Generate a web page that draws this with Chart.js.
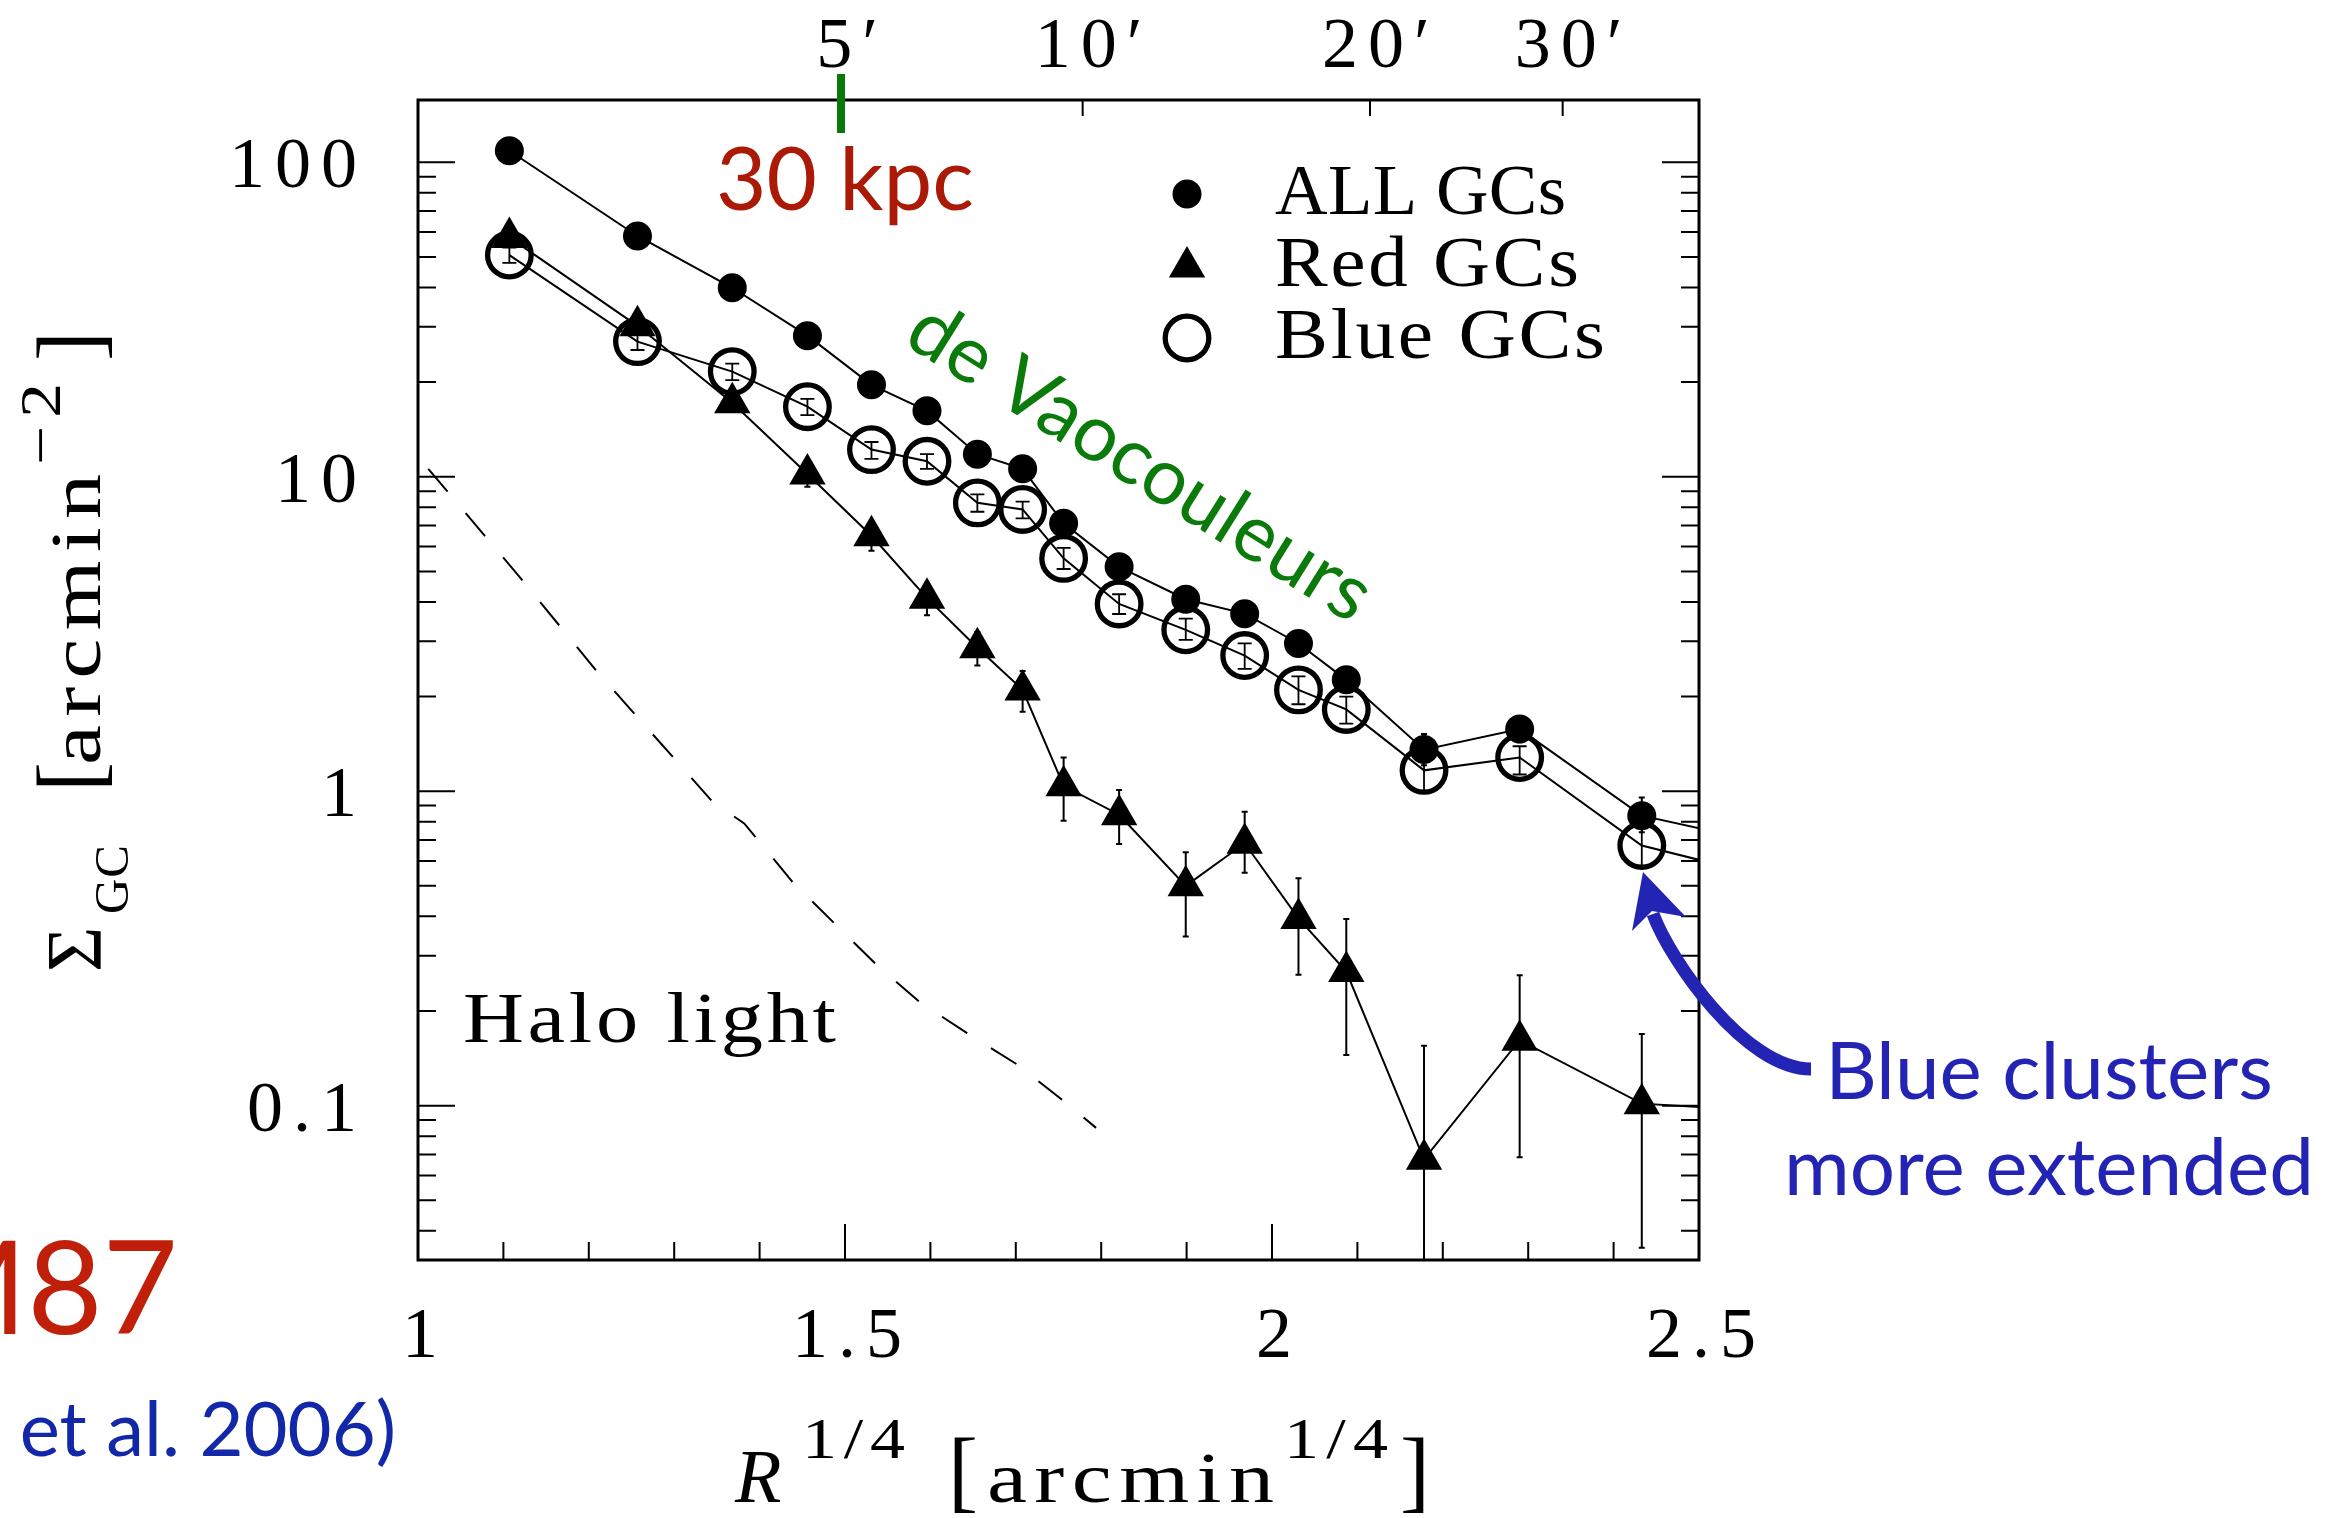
<!DOCTYPE html>
<html>
<head>
<meta charset="UTF-8">
<title>GC surface density profile</title>
<script src="https://cdn.jsdelivr.net/npm/chart.js"></script>
<style>
  body { margin: 0; background: #fff; }
  canvas { display: block; }
</style>
</head>
<body>
<canvas id="grafica" width="2342" height="1518"></canvas>
<script>
// radial bins, in R^(1/4) [arcmin^(1/4)] (last bin lies past the right edge)
const rQuarter = [1.107, 1.257, 1.368, 1.456, 1.531, 1.596, 1.655, 1.708, 1.756, 1.821, 1.899, 1.968, 2.031, 2.087, 2.178, 2.290, 2.433, 2.590];

// surface density of GCs [arcmin^-2]
const allGC  = [108.8, 58.3, 39.9, 28.1, 19.6, 16.2, 11.8, 10.6, 7.11, 5.17, 4.08, 3.67, 2.95, 2.26, 1.356, 1.576, 0.836, 0.674];
const allLo  = [104.5, 56.0, 38.3, 26.9, 18.7, 15.4, 11.2, 10.0, 6.70, 4.85, 3.80, 3.40, 2.72, 2.06, 1.21, 1.43, 0.74];
const allHi  = [113.0, 60.6, 41.5, 29.3, 20.5, 17.0, 12.4, 11.2, 7.50, 5.50, 4.35, 3.95, 3.18, 2.46, 1.52, 1.72, 0.955];

const redGC  = [57.7, 30.2, 17.2, 10.2, 6.49, 4.11, 2.86, 2.10, 1.04, 0.842, 0.50, 0.683, 0.394, 0.267, 0.0675, 0.1615, 0.1015, 0.0958];
const redLo  = [55.5, 28.6, 16.2, 9.3, 5.82, 3.63, 2.51, 1.79, 0.805, 0.679, 0.345, 0.55, 0.261, 0.145, 0.01, 0.0686, 0.0353];
const redHi  = [60.0, 31.8, 18.2, 11.1, 7.16, 4.59, 3.21, 2.41, 1.28, 1.008, 0.639, 0.86, 0.529, 0.392, 0.155, 0.26, 0.169];

const blueGC = [50.7, 26.9, 21.6, 16.7, 12.2, 11.2, 8.26, 7.87, 5.5, 3.94, 3.26, 2.70, 2.10, 1.82, 1.165, 1.28, 0.672, 0.525];
const blueLo = [47.9, 25.3, 20.3, 15.7, 11.4, 10.6, 7.74, 7.37, 5.09, 3.66, 3.03, 2.45, 1.89, 1.64, 1.00, 1.13, 0.58];
const blueHi = [53.5, 28.6, 22.9, 17.7, 12.9, 11.8, 8.79, 8.34, 5.94, 4.23, 3.54, 2.95, 2.32, 2.00, 1.35, 1.39, 0.78];

// halo light profile (dashed)
const haloR     = [1.012, 1.123, 1.208, 1.345, 1.382, 1.439, 1.536, 1.587, 1.643, 1.702, 1.755, 1.794];
const haloSigma = [10.6, 4.66, 2.43, 0.925, 0.790, 0.513, 0.282, 0.214, 0.170, 0.135, 0.104, 0.085];

// axis ticks
const xTickValues = [1, 1.5, 2, 2.5];
const xTickLabels = ['1', '1.5', '2', '2.5'];
const yTickValues = [0.1, 1, 10, 100];
const yTickLabels = ['0.1', '1', '10', '100'];
const topArcmin = [5, 10, 20, 30];
const topLabels = ['5′', '10′', '20′', '30′'];

const serif = '"Liberation Serif", "Times New Roman", serif';
const sans = 'Lato, "Open Sans", sans-serif';

function pares(xs, ys) {
  return ys.map((v, i) => ({ x: xs[i], y: v }));
}

// draws text at a given width: glyphs a bit wider, the rest as letter spacing
function spacedText(ctx, text, x, y, width, align, stretch) {
  ctx.letterSpacing = '0px';
  const natural = ctx.measureText(text).width;
  const n = Array.from(text).length;
  const ratio = width / natural;
  let sx = stretch === false ? 1 : Math.min(1.25, Math.max(1, 1 + (ratio - 1) * 0.6));
  if (n === 1) sx = 1;
  const gap = n > 1 ? (width - natural * sx) / (n - 1) : 0;
  let left = x;
  if (align === 'center') left = x - width / 2;
  if (align === 'right') left = x - width;
  ctx.save();
  ctx.translate(left, y);
  ctx.scale(sx, 1);
  ctx.textAlign = 'left';
  ctx.letterSpacing = (gap / sx) + 'px';
  ctx.fillText(text, 0, 0);
  ctx.restore();
}

function digitText(ctx, text, x, y, align) {
  ctx.letterSpacing = '0px';
  const n = Array.from(text).length;
  const w = ctx.measureText(text).width + 10 * (n - 1);
  spacedText(ctx, text, x, y, w, align, false);
}

const ejes = {
  id: 'ejes',
  beforeDatasetsDraw(chart) {
    const ctx = chart.ctx, a = chart.chartArea;
    const xs = chart.scales.x, ys = chart.scales.y;
    ctx.save();
    ctx.strokeStyle = '#000';
    ctx.lineWidth = 2;
    ctx.beginPath();
    for (let k = 10; k <= 25; k++) {
      const px = xs.getPixelForValue(k / 10);
      const len = k % 5 === 0 ? 36 : 18;
      ctx.moveTo(px, a.bottom);
      ctx.lineTo(px, a.bottom - len);
    }
    [0.01, 0.1, 1, 10, 100].forEach(d => {
      for (let k = 1; k <= 9; k++) {
        const v = d * k;
        if (v < ys.min || v > ys.max) continue;
        const py = ys.getPixelForValue(v);
        const len = k === 1 ? 37 : 18;
        ctx.moveTo(a.left, py); ctx.lineTo(a.left + len, py);
        ctx.moveTo(a.right, py); ctx.lineTo(a.right - len, py);
      }
    });
    topArcmin.forEach(m => {
      const px = xs.getPixelForValue(Math.pow(m, 0.25));
      ctx.moveTo(px, a.top); ctx.lineTo(px, a.top + 16);
    });
    ctx.stroke();
    ctx.lineWidth = 3;
    ctx.strokeRect(a.left, a.top, a.right - a.left, a.bottom - a.top);

    // tick labels
    ctx.fillStyle = '#000';
    ctx.font = '72px ' + serif;
    ctx.textBaseline = 'alphabetic';
    yTickValues.forEach((v, i) => {
      digitText(ctx, yTickLabels[i], 357, ys.getPixelForValue(v) + 25, 'right');
    });
    xTickValues.forEach((v, i) => {
      digitText(ctx, xTickLabels[i], xs.getPixelForValue(v) + 2, 1357, 'center');
    });
    topArcmin.forEach((m, i) => {
      digitText(ctx, topLabels[i], xs.getPixelForValue(Math.pow(m, 0.25)) + 6, 67, 'center');
    });
    ctx.restore();
  }
};

const barras = {
  id: 'barras',
  afterDatasetsDraw(chart) {
    const ctx = chart.ctx, a = chart.chartArea;
    const xs = chart.scales.x, ys = chart.scales.y;
    ctx.save();
    ctx.beginPath();
    ctx.rect(a.left, a.top, a.right - a.left, a.bottom - a.top);
    ctx.clip();
    ctx.strokeStyle = '#000';
    const sets = [[allLo, allHi, 3, 2], [redLo, redHi, 3, 2], [blueLo, blueHi, 7, 1.8]];
    sets.forEach(([lo, hi, cap, lw]) => {
      ctx.lineWidth = lw;
      ctx.beginPath();
      lo.forEach((l, i) => {
        const px = xs.getPixelForValue(rQuarter[i]);
        const y1 = ys.getPixelForValue(l), y2 = ys.getPixelForValue(hi[i]);
        ctx.moveTo(px, y1); ctx.lineTo(px, y2);
        ctx.moveTo(px - cap, y1); ctx.lineTo(px + cap, y1);
        ctx.moveTo(px - cap, y2); ctx.lineTo(px + cap, y2);
      });
      ctx.stroke();
    });
    ctx.restore();
  }
};

const notas = {
  id: 'notas',
  afterDraw(chart) {
    const ctx = chart.ctx;
    const xs = chart.scales.x;
    ctx.save();
    ctx.textBaseline = 'alphabetic';

    // 5 arcmin marker and 30 kpc
    const p5 = xs.getPixelForValue(Math.pow(5, 0.25));
    ctx.strokeStyle = '#087808';
    ctx.lineWidth = 8;
    ctx.beginPath(); ctx.moveTo(p5, 74); ctx.lineTo(p5, 133); ctx.stroke();
    ctx.fillStyle = '#aa1a06';
    ctx.font = '87px ' + sans;
    ctx.textAlign = 'left';
    ctx.fillText('30 kpc', 716, 210);

    // de Vaucouleurs label
    ctx.save();
    ctx.translate(1140, 462);
    ctx.rotate(32 * Math.PI / 180);
    ctx.fillStyle = '#0a7a0a';
    ctx.font = '79px ' + sans;
    ctx.textAlign = 'center';
    ctx.textBaseline = 'middle';
    ctx.fillText('de Vaocouleurs', 0, 0);
    ctx.restore();

    // legend
    ctx.fillStyle = '#000';
    ctx.strokeStyle = '#000';
    ctx.beginPath(); ctx.arc(1187, 194, 14.5, 0, 2 * Math.PI); ctx.fill();
    const r = 21, ty = 267;
    ctx.beginPath();
    ctx.moveTo(1187, ty - r);
    ctx.lineTo(1187 + r * Math.sin(2 * Math.PI / 3), ty + r / 2);
    ctx.lineTo(1187 - r * Math.sin(2 * Math.PI / 3), ty + r / 2);
    ctx.closePath(); ctx.fill();
    ctx.lineWidth = 5.3;
    ctx.beginPath(); ctx.arc(1187, 338, 21.8, 0, 2 * Math.PI); ctx.stroke();
    ctx.font = '72px ' + serif;
    spacedText(ctx, 'ALL GCs', 1275, 214, 291, 'left');
    spacedText(ctx, 'Red GCs', 1275, 286, 304, 'left');
    spacedText(ctx, 'Blue GCs', 1275, 358, 330, 'left');
    spacedText(ctx, 'Halo light', 463, 1042, 373, 'left');

    // x axis title
    ctx.font = 'italic 76px ' + serif;
    ctx.fillText('R', 735, 1502);
    ctx.font = '56px ' + serif;
    spacedText(ctx, '1/4', 802, 1458, 103, 'left');
    spacedText(ctx, '1/4', 1284, 1458, 104, 'left');
    ctx.font = '90px ' + serif;
    ctx.fillText('[', 948, 1501);
    ctx.fillText(']', 1400, 1501);
    ctx.font = '72px ' + serif;
    spacedText(ctx, 'arcmin', 987, 1502, 287, 'left');

    // y axis title
    ctx.save();
    ctx.translate(100, 972);
    ctx.rotate(-Math.PI / 2);
    ctx.font = '78px ' + serif;
    ctx.fillText('Σ', 0, 0);
    ctx.font = '48px ' + serif;
    spacedText(ctx, 'GC', 58, 28, 69, 'left');
    ctx.font = '90px ' + serif;
    ctx.fillText('[', 180, 0);
    ctx.fillText(']', 611, 0);
    ctx.font = '72px ' + serif;
    spacedText(ctx, 'arcmin', 207, 0, 291, 'left');
    ctx.font = '58px ' + serif;
    spacedText(ctx, '−2', 507, -40, 82, 'left');
    ctx.restore();

    // arrow to the outermost blue point
    ctx.strokeStyle = '#2424b4';
    ctx.fillStyle = '#2424b4';
    ctx.lineWidth = 13;
    ctx.beginPath();
    ctx.moveTo(1811, 1069);
    ctx.bezierCurveTo(1745, 1069, 1670, 960, 1653, 914);
    ctx.stroke();
    ctx.beginPath();
    ctx.moveTo(1643, 872);
    ctx.lineTo(1686, 917);
    ctx.lineTo(1652, 911);
    ctx.lineTo(1632, 931);
    ctx.closePath();
    ctx.fill();
    ctx.font = '80px ' + sans;
    ctx.textAlign = 'center';
    ctx.fillText('Blue clusters', 2049, 1099);
    ctx.fillText('more extended', 2049, 1195);

    // title fragments cut by the left edge
    ctx.textAlign = 'right';
    ctx.fillStyle = '#c0200a';
    ctx.font = '130px ' + sans;
    ctx.fillText('M87', 178, 1334);
    ctx.fillStyle = '#1228a8';
    ctx.font = '76px ' + sans;
    ctx.fillText('(Tamura et al. 2006)', 396, 1456);
    ctx.restore();
  }
};

const ctx = document.getElementById('grafica').getContext('2d');
new Chart(ctx, {
  type: 'scatter',
  data: {
    datasets: [
      {
        label: 'ALL GCs',
        data: pares(rQuarter, allGC),
        showLine: true,
        borderColor: '#000',
        borderWidth: 2,
        pointStyle: 'circle',
        pointRadius: 14.5,
        pointBackgroundColor: '#000',
        pointBorderWidth: 0
      },
      {
        label: 'Red GCs',
        data: pares(rQuarter, redGC),
        showLine: true,
        borderColor: '#000',
        borderWidth: 2,
        pointStyle: 'triangle',
        pointRadius: 21,
        pointBackgroundColor: '#000',
        pointBorderWidth: 0
      },
      {
        label: 'Blue GCs',
        data: pares(rQuarter, blueGC),
        showLine: true,
        borderColor: '#000',
        borderWidth: 2,
        pointStyle: 'circle',
        pointRadius: 21.8,
        pointBackgroundColor: 'rgba(0,0,0,0)',
        pointBorderColor: '#000',
        pointBorderWidth: 5.3
      },
      {
        label: 'Halo light',
        data: pares(haloR, haloSigma),
        showLine: true,
        borderColor: '#000',
        borderWidth: 2,
        borderDash: [30, 28],
        pointRadius: 0
      }
    ]
  },
  options: {
    responsive: false,
    animation: false,
    devicePixelRatio: 1,
    events: [],
    layout: { padding: { left: 418, right: 643, top: 100, bottom: 258 } },
    plugins: { legend: { display: false }, tooltip: { enabled: false } },
    scales: {
      x: { type: 'linear', min: 1, max: 2.5, display: false },
      y: { type: 'logarithmic', min: 0.0323, max: 157.8, display: false }
    }
  },
  plugins: [ejes, barras, notas]
});
</script>
</body>
</html>
